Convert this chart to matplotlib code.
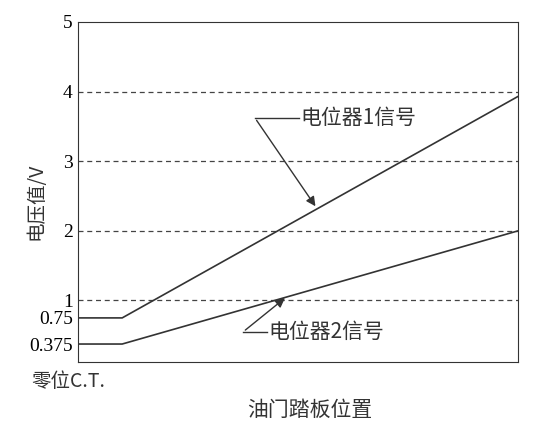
import matplotlib
matplotlib.use("Agg")
import matplotlib.pyplot as plt

plt.rcParams["font.family"] = ["Noto Sans CJK SC", "DejaVu Sans"]

# pedal position (0-100 %) and voltage of the two potentiometers
pos = [0, 10, 100]
sig1 = [0.75, 0.75, 3.93]
sig2 = [0.375, 0.375, 2.0]
grid_levels = [1, 2, 3, 4]
yticks = [0.375, 0.75, 1, 2, 3, 4, 5]
ytick_labels = ["0.375", "0.75", "1", "2", "3", "4", "5"]

fig = plt.figure(figsize=(5.43, 4.38), dpi=100)
ax = fig.add_axes([0.144, 0.174, 0.81, 0.776])

for g in grid_levels:
    ax.axhline(g, color="#444444", linestyle=(0, (4, 3)), linewidth=0.9)

ax.plot(pos, sig1, color="#333333", linewidth=1.2)
ax.plot(pos, sig2, color="#333333", linewidth=1.2)

ax.set_xlim(0, 100)
ax.set_ylim(0.12, 5)
ax.set_xticks([])
ax.set_yticks(yticks)
ax.set_yticklabels(ytick_labels, family=["Liberation Serif"], fontsize=14)
ax.tick_params(axis="y", length=0, pad=4)
for s in ax.spines.values():
    s.set_color("#333333")

arrow = dict(arrowstyle="-|>", color="#333333", lw=1.0, mutation_scale=14)
# label 1
ax.plot([40.2, 50.3], [3.62, 3.62], color="#333333", lw=1.0)
ax.annotate("", xy=(54.3, 2.32), xytext=(40.2, 3.62), arrowprops=arrow)
ax.text(50.5, 3.62, "电位器1信号", fontsize=15, va="center", ha="left", color="#333333")
# label 2
ax.plot([37.5, 43.0], [0.55, 0.55], color="#333333", lw=1.0)
ax.annotate("", xy=(47.5, 1.06), xytext=(37.5, 0.55), arrowprops=arrow)
ax.text(43.2, 0.55, "电位器2信号", fontsize=15, va="center", ha="left", color="#333333")

fig.text(0.066, 0.54, "电压值/V", rotation=90, fontsize=14, va="center", ha="center", color="#333333")
fig.text(0.058, 0.128, "零位C.T.", fontsize=14, va="center", ha="left", color="#333333")
fig.text(0.57, 0.065, "油门踏板位置", fontsize=15, va="center", ha="center", color="#333333")

fig.savefig("out.png", dpi=100)
